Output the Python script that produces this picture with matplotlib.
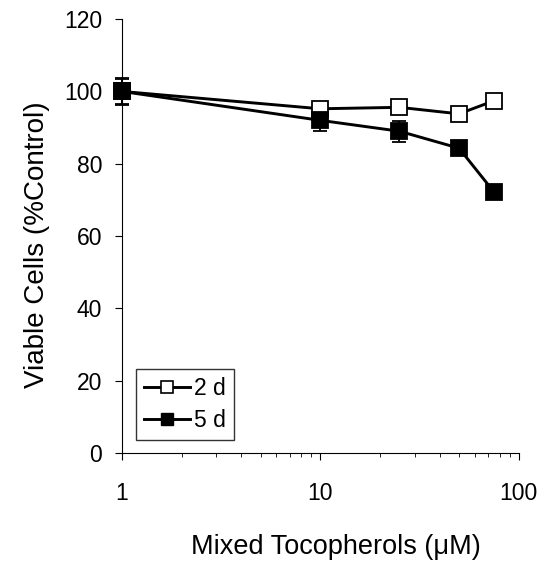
import matplotlib.pyplot as plt
from matplotlib.lines import Line2D

plt.rcParams['font.family'] = ['Liberation Sans', 'DejaVu Sans']

conc = [1, 10, 25, 50, 75]
day2 = [100, 95.2, 95.6, 93.8, 97.4]
day2_err = [3.5, 0, 0, 0, 0]
day5 = [100, 92, 89, 84.3, 72.2]
day5_err = [3.8, 3, 2.9, 0, 0]

fig = plt.figure(figsize=(5.56, 5.62), dpi=100)
ax = fig.add_axes([0.219, 0.194, 0.714, 0.772])

for y, err, fc in [(day2, day2_err, 'white'), (day5, day5_err, 'black')]:
    eb = ax.errorbar(conc, y, yerr=err, color='black', lw=2.1, marker='s', ms=11,
                     mfc=fc, mec='black', mew=1.3, capsize=5, elinewidth=1.3)
    for art in eb.get_children():
        art.set_clip_on(False)

ax.set_xscale('log')
ax.set_xlim(1, 100)
ax.set_ylim(0, 120)
ax.set_yticks(range(0, 121, 20))
ax.set_xticks([1, 10, 100])
ax.set_xticklabels(['1', '10', '100'])
ax.spines['top'].set_visible(False)
ax.spines['right'].set_visible(False)
ax.tick_params(labelsize=16.5, direction='out', length=5)
ax.tick_params(axis='x', pad=16)
ax.tick_params(axis='y', pad=9)
ax.tick_params(which='minor', length=3)

ax.set_xlabel('Mixed Tocopherols (\u03bcM)', fontsize=19.5)
ax.xaxis.set_label_coords(0.54, -0.186)
ax.set_ylabel('Viable Cells (%Control)', fontsize=20)
ax.yaxis.set_label_coords(-0.18, 0.48)

handles = [Line2D([], [], color='black', lw=2.1, marker='s', ms=9, mfc='white', mec='black', mew=1.2),
           Line2D([], [], color='black', lw=2.1, marker='s', ms=9, mfc='black', mec='black')]
leg = ax.legend(handles, ['2 d', '5 d'], loc='lower left', bbox_to_anchor=(0.035, 0.03),
                borderaxespad=0, fontsize=16.5, frameon=True, fancybox=False, edgecolor='black',
                handlelength=2.0, borderpad=0.35, labelspacing=0.4, handletextpad=0.2)
leg.get_frame().set_linewidth(1.0)

fig.savefig('out.png', dpi=100)
